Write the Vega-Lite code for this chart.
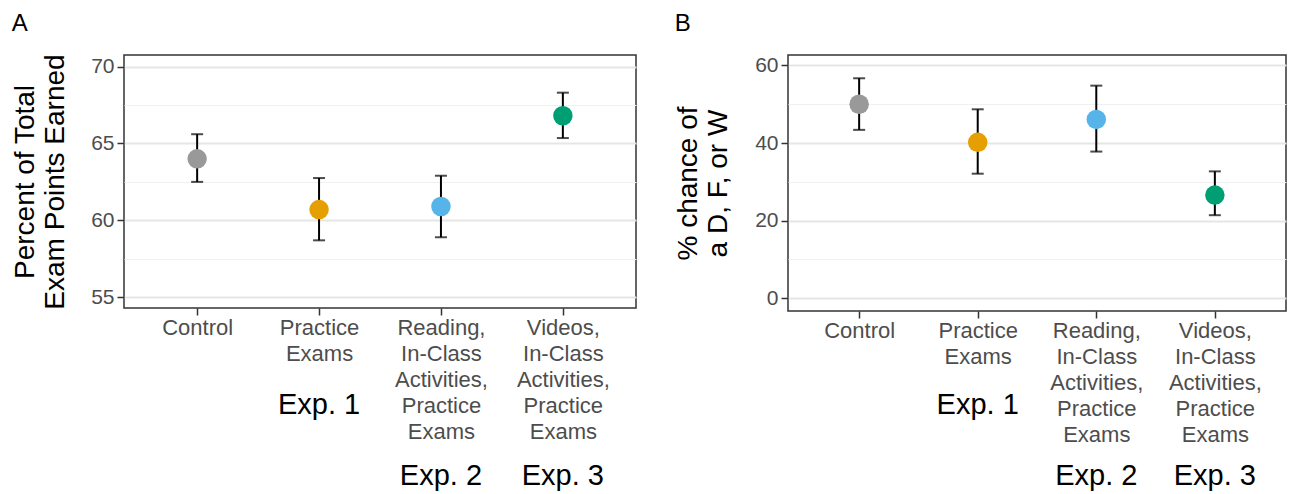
{
  "$schema": "https://vega.github.io/schema/vega-lite/v6.json",
  "padding": {"left": 10, "top": 11, "right": 5, "bottom": 0},
  "spacing": 36,
  "config": {
    "font": "Liberation Sans",
    "view": {"stroke": "#333333", "strokeWidth": 1.5},
    "axis": {
      "domain": false,
      "tickColor": "#333333",
      "tickWidth": 1.5,
      "tickSize": 7,
      "labelColor": "#4d4d4d",
      "labelFont": "Liberation Sans",
      "titleFont": "Liberation Sans",
      "titleFontWeight": "normal",
      "titleColor": "#000000"
    },
    "title": {"font": "Liberation Sans", "fontSize": 24, "fontWeight": "normal", "color": "#000000", "anchor": "start", "frame": "bounds"}
  },
  "datasets": {
    "a": [
      {"cond": "Control", "mean": 64.0, "lo": 62.5, "hi": 65.6},
      {"cond": "Practice|Exams", "mean": 60.7, "lo": 58.7, "hi": 62.75},
      {"cond": "Reading,|In-Class|Activities,|Practice|Exams", "mean": 60.9, "lo": 58.9, "hi": 62.9},
      {"cond": "Videos,|In-Class|Activities,|Practice|Exams", "mean": 66.8, "lo": 65.35, "hi": 68.3}
    ],
    "aexp": [
      {"cond": "Practice|Exams", "exp": "Exp. 1", "ty": 47.41},
      {"cond": "Reading,|In-Class|Activities,|Practice|Exams", "exp": "Exp. 2", "ty": 42.79},
      {"cond": "Videos,|In-Class|Activities,|Practice|Exams", "exp": "Exp. 3", "ty": 42.79}
    ],
    "b": [
      {"cond": "Control", "mean": 50.0, "lo": 43.4, "hi": 56.7},
      {"cond": "Practice|Exams", "mean": 40.2, "lo": 32.1, "hi": 48.7},
      {"cond": "Reading,|In-Class|Activities,|Practice|Exams", "mean": 46.1, "lo": 37.8, "hi": 54.8},
      {"cond": "Videos,|In-Class|Activities,|Practice|Exams", "mean": 26.6, "lo": 21.4, "hi": 32.7}
    ],
    "bexp": [
      {"cond": "Practice|Exams", "exp": "Exp. 1", "ty": -29.85},
      {"cond": "Reading,|In-Class|Activities,|Practice|Exams", "exp": "Exp. 2", "ty": -48.16},
      {"cond": "Videos,|In-Class|Activities,|Practice|Exams", "exp": "Exp. 3", "ty": -48.16}
    ]
  },
  "hconcat": [
    {
      "title": {"text": "A", "offset": 18, "fontSize": 24},
      "width": 512,
      "height": 253,
      "data": {"name": "a"},
      "encoding": {
        "x": {
          "field": "cond", "type": "ordinal",
          "sort": ["Control", "Practice|Exams", "Reading,|In-Class|Activities,|Practice|Exams", "Videos,|In-Class|Activities,|Practice|Exams"],
          "scale": {"type": "point", "padding": 0.6},
          "axis": {"title": null, "labelAngle": 0, "labelExpr": "split(datum.label, '|')", "labelFontSize": 22, "labelLineHeight": 26, "labelPadding": 2, "labelBaseline": "top", "grid": false}
        }
      },
      "layer": [
        {
          "mark": {"type": "rule", "color": "#000000", "strokeWidth": 2},
          "encoding": {
            "y": {"field": "lo", "type": "quantitative",
              "scale": {"domain": [54.3, 70.75], "nice": false, "zero": false},
              "axis": {"title": ["Percent of Total", "Exam Points Earned"], "titleFontSize": 28, "titleLineHeight": 30, "titlePadding": 21,
                "values": [55, 57.5, 60, 62.5, 65, 67.5, 70],
                "labelExpr": "datum.value % 5 == 0 ? datum.label : ''",
                "labelFontSize": 21, "labelPadding": 3,
                "tickOpacity": {"condition": {"test": "datum.value % 5 != 0", "value": 0}, "value": 1},
                "grid": true,
                "gridColor": {"condition": {"test": "datum.value % 5 != 0", "value": "#f0f0f0"}, "value": "#e6e6e6"},
                "gridWidth": {"condition": {"test": "datum.value % 5 != 0", "value": 1.2}, "value": 2}
              }},
            "y2": {"field": "hi"}
          }
        },
        {
          "mark": {"type": "tick", "color": "#000000", "thickness": 2, "size": 12},
          "encoding": {"y": {"field": "lo", "type": "quantitative"}}
        },
        {
          "mark": {"type": "tick", "color": "#000000", "thickness": 2, "size": 12},
          "encoding": {"y": {"field": "hi", "type": "quantitative"}}
        },
        {
          "mark": {"type": "point", "filled": true, "opacity": 1, "size": 380},
          "encoding": {
            "y": {"field": "mean", "type": "quantitative"},
            "color": {"field": "cond", "type": "nominal", "legend": null,
              "scale": {"domain": ["Control", "Practice|Exams", "Reading,|In-Class|Activities,|Practice|Exams", "Videos,|In-Class|Activities,|Practice|Exams"],
                "range": ["#999999", "#E69F00", "#56B4E9", "#009E73"]}}
          }
        },
        {
          "data": {"name": "aexp"},
          "mark": {"type": "text", "fontSize": 29, "color": "#000000", "baseline": "alphabetic", "align": "center"},
          "encoding": {
            "y": {"field": "ty", "type": "quantitative"},
            "text": {"field": "exp"}
          }
        }
      ]
    },
    {
      "title": {"text": "B", "offset": 18, "fontSize": 24},
      "width": 498,
      "height": 256,
      "data": {"name": "b"},
      "encoding": {
        "x": {
          "field": "cond", "type": "ordinal",
          "sort": ["Control", "Practice|Exams", "Reading,|In-Class|Activities,|Practice|Exams", "Videos,|In-Class|Activities,|Practice|Exams"],
          "scale": {"type": "point", "padding": 0.6},
          "axis": {"title": null, "labelAngle": 0, "labelExpr": "split(datum.label, '|')", "labelFontSize": 22, "labelLineHeight": 26, "labelPadding": 2, "labelBaseline": "top", "grid": false}
        }
      },
      "layer": [
        {
          "mark": {"type": "rule", "color": "#000000", "strokeWidth": 2},
          "encoding": {
            "y": {"field": "lo", "type": "quantitative",
              "scale": {"domain": [-3.3, 62.7], "nice": false, "zero": false},
              "axis": {"title": ["% chance of", "a D, F, or W"], "titleFontSize": 28, "titleLineHeight": 30, "titlePadding": 22,
                "values": [0, 10, 20, 30, 40, 50, 60],
                "labelExpr": "datum.value % 20 == 0 ? datum.label : ''",
                "labelFontSize": 21, "labelPadding": 3,
                "tickOpacity": {"condition": {"test": "datum.value % 20 != 0", "value": 0}, "value": 1},
                "grid": true,
                "gridColor": {"condition": {"test": "datum.value % 20 != 0", "value": "#f0f0f0"}, "value": "#e6e6e6"},
                "gridWidth": {"condition": {"test": "datum.value % 20 != 0", "value": 1.2}, "value": 2}
              }},
            "y2": {"field": "hi"}
          }
        },
        {
          "mark": {"type": "tick", "color": "#000000", "thickness": 2, "size": 12},
          "encoding": {"y": {"field": "lo", "type": "quantitative"}}
        },
        {
          "mark": {"type": "tick", "color": "#000000", "thickness": 2, "size": 12},
          "encoding": {"y": {"field": "hi", "type": "quantitative"}}
        },
        {
          "mark": {"type": "point", "filled": true, "opacity": 1, "size": 380},
          "encoding": {
            "y": {"field": "mean", "type": "quantitative"},
            "color": {"field": "cond", "type": "nominal", "legend": null,
              "scale": {"domain": ["Control", "Practice|Exams", "Reading,|In-Class|Activities,|Practice|Exams", "Videos,|In-Class|Activities,|Practice|Exams"],
                "range": ["#999999", "#E69F00", "#56B4E9", "#009E73"]}}
          }
        },
        {
          "data": {"name": "bexp"},
          "mark": {"type": "text", "fontSize": 29, "color": "#000000", "baseline": "alphabetic", "align": "center"},
          "encoding": {
            "y": {"field": "ty", "type": "quantitative"},
            "text": {"field": "exp"}
          }
        }
      ]
    }
  ]
}
